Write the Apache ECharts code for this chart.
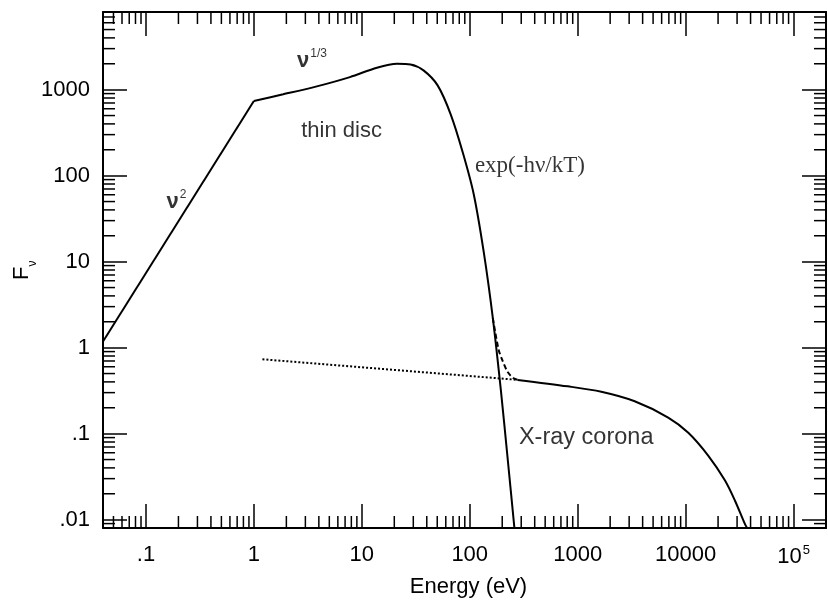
<!DOCTYPE html>
<html><head><meta charset="utf-8">
<script src="https://cdn.jsdelivr.net/npm/echarts@6/dist/echarts.min.js"></script>
<style>html,body{margin:0;padding:0;background:#fff}#c{width:828px;height:600px}</style>
</head><body><div id="c"></div>
<script>
// ---- data ----
const xMin = 0.04, xMax = 200000, yMin = 0.008, yMax = 8000;
const xTickValues = [0.1, 1, 10, 100, 1000, 10000, 100000];
const xTickLabels = ['.1', '1', '10', '100', '1000', '10000', '{b|10}{s|5}'];
const yTickValues = [0.01, 0.1, 1, 10, 100, 1000];
const yTickLabels = ['.01', '.1', '1', '10', '100', '1000'];
const xMinorTicks = [0.05,0.06,0.07,0.08,0.09, 0.2,0.3,0.4,0.5,0.6,0.7,0.8,0.9, 2,3,4,5,6,7,8,9,
  20,30,40,50,60,70,80,90, 200,300,400,500,600,700,800,900, 2000,3000,4000,5000,6000,7000,8000,9000,
  20000,30000,40000,50000,60000,70000,80000,90000];
const yMinorTicks = [0.009, 0.02,0.03,0.04,0.05,0.06,0.07,0.08,0.09, 0.2,0.3,0.4,0.5,0.6,0.7,0.8,0.9,
  2,3,4,5,6,7,8,9, 20,30,40,50,60,70,80,90, 200,300,400,500,600,700,800,900, 2000,3000,4000,5000,6000,7000];

// thin disc: nu^2 segment and the nu^1/3 + exponential part
const rjE = [0.04, 1];
const rjF = [1.18, 740];
const discE = [1, 1.87, 3.83, 7.76, 13.8, 21.2, 28.3, 37.3, 50.4, 66.6, 86.1, 108.9, 134.9, 163.7, 194.2, 225.6, 259.4];
const discF = [740, 883, 1092, 1400, 1801, 2004, 1967, 1675, 1122, 517, 187, 60.9, 12.9, 2.21, 0.323, 0.0484, 0.008];
// corona power law (dotted, under the disc)
const coronaDotE = [1.2, 280];
const coronaDotF = [0.733, 0.422];
// corona with cutoff (solid)
const coronaE = [278, 811, 1655, 3376, 6900, 10600, 16260, 23200, 28770, 35600, 37200];
const coronaF = [0.422, 0.355, 0.307, 0.238, 0.154, 0.1025, 0.0553, 0.0285, 0.0165, 0.0088, 0.008];
// total (dashed)
const totalE = [163.7, 185, 200, 225, 255, 280];
const totalF = [2.21, 0.95, 0.72, 0.52, 0.44, 0.422];

// annotations
const annText = ['thin disc', 'X-ray corona', 'exp(-hν/kT)', '{n|ν}{s|1/3}', '{n|ν}{s|2}'];
const annE = [6.5, 1200, 361, 2.51, 0.155];
const annF = [333, 0.0912, 130, 2230, 50.5];

const INK = '#000';
const SANS = 'Liberation Sans, Arial, Helvetica, sans-serif';
const SERIF = 'Liberation Serif, Times New Roman, serif';

function zip(a, b) { return a.map((v, i) => [v, b[i]]); }
function labelFor(values, labels) {
  return function (v) {
    for (let i = 0; i < values.length; i++) {
      if (Math.abs(Math.log10(v) - Math.log10(values[i])) < 1e-6) return labels[i];
    }
    return '';
  };
}

const tickStyle = { color: INK, width: 1.5 };
function baseX(pos, showLabel) {
  return {
    type: 'log', logBase: 10, min: xMin, max: xMax, position: pos,
    axisLine: { show: true, onZero: false, lineStyle: { color: INK, width: 2 } },
    axisTick: { show: true, inside: true, length: 24, lineStyle: tickStyle },
    minorTick: { show: false }, splitLine: { show: false },
    axisLabel: {
      show: showLabel, color: INK, fontFamily: SANS, fontSize: 22, margin: 16,
      showMinLabel: false, showMaxLabel: false,
      formatter: labelFor(xTickValues, xTickLabels),
      rich: {
        b: { fontFamily: SANS, fontSize: 22, color: INK, lineHeight: 24, verticalAlign: 'bottom' },
        s: { fontFamily: SANS, fontSize: 13, color: INK, lineHeight: 16, verticalAlign: 'top', padding: [0, 0, 0, 1] }
      }
    }
  };
}
function baseY(pos, showLabel) {
  return {
    type: 'log', logBase: 10, min: yMin, max: yMax, position: pos,
    axisLine: { show: true, onZero: false, lineStyle: { color: INK, width: 2 } },
    axisTick: { show: true, inside: true, length: 24, lineStyle: tickStyle },
    minorTick: { show: false }, splitLine: { show: false },
    axisLabel: {
      show: showLabel, color: INK, fontFamily: SANS, fontSize: 22, margin: 13,
      showMinLabel: false, showMaxLabel: false,
      formatter: labelFor(yTickValues, yTickLabels)
    }
  };
}

const xA0 = baseX('bottom', true);
xA0.name = 'Energy (eV)';
xA0.nameLocation = 'middle';
xA0.nameGap = 48;
xA0.nameMoveOverlap = false;
xA0.nameTextStyle = { fontFamily: SANS, fontSize: 22, color: INK, padding: [0, 0, 0, 8] };
const yA0 = baseY('left', true);
yA0.name = '{f|F}{v|ν}{z| }';
yA0.nameLocation = 'middle';
yA0.nameGap = 64;
yA0.nameMoveOverlap = false;
yA0.nameTextStyle = {
  rich: {
    f: { fontFamily: SANS, fontSize: 22, color: INK, lineHeight: 22, verticalAlign: 'top' },
    v: { fontFamily: SANS, fontSize: 12, color: INK, lineHeight: 12, verticalAlign: 'bottom' },
    z: { fontFamily: SANS, fontSize: 2, color: INK, lineHeight: 28, verticalAlign: 'bottom' }
  }
};

function minorX(params, api) {
  const cs = params.coordSys;
  const px = api.coord([api.value(0), yMin])[0];
  const b = cs.y + cs.height, t = cs.y, L = 12;
  return { type: 'group', children: [
    { type: 'line', shape: { x1: px, y1: b, x2: px, y2: b - L }, style: { stroke: INK, lineWidth: 1.5 } },
    { type: 'line', shape: { x1: px, y1: t, x2: px, y2: t + L }, style: { stroke: INK, lineWidth: 1.5 } }
  ] };
}
function minorY(params, api) {
  const cs = params.coordSys;
  const py = api.coord([xMin, api.value(1)])[1];
  const l = cs.x, r = cs.x + cs.width, L = 12;
  return { type: 'group', children: [
    { type: 'line', shape: { x1: l, y1: py, x2: l + L, y2: py }, style: { stroke: INK, lineWidth: 1.5 } },
    { type: 'line', shape: { x1: r, y1: py, x2: r - L, y2: py }, style: { stroke: INK, lineWidth: 1.5 } }
  ] };
}

const lineBase = { type: 'line', showSymbol: false, symbol: 'none', silent: true, animation: false, z: 3 };

const chart = echarts.init(document.getElementById('c'), null, { renderer: 'canvas' });
chart.setOption({
  backgroundColor: '#fff',
  animation: false,
  grid: { left: 103, right: 2, top: 12, bottom: 72, containLabel: false, outerBoundsMode: 'none' },
  xAxis: [xA0, baseX('top', false)],
  yAxis: [yA0, baseY('right', false)],
  series: [
    Object.assign({}, lineBase, { name: 'nu2', data: zip(rjE, rjF), lineStyle: { color: INK, width: 2 } }),
    Object.assign({}, lineBase, { name: 'disc', data: zip(discE, discF), smooth: 0.3, lineStyle: { color: INK, width: 2 } }),
    Object.assign({}, lineBase, { name: 'coronaDot', data: zip(coronaDotE, coronaDotF), lineStyle: { color: INK, width: 2, type: [2, 2] } }),
    Object.assign({}, lineBase, { name: 'corona', data: zip(coronaE, coronaF), smooth: 0.3, lineStyle: { color: INK, width: 2 } }),
    Object.assign({}, lineBase, { name: 'total', data: zip(totalE, totalF), smooth: 0.3, lineStyle: { color: INK, width: 2, type: [5, 3] } }),
    { type: 'custom', name: 'xminor', renderItem: minorX, data: xMinorTicks.map(v => [v, yMin]), silent: true, clip: false, z: 4 },
    { type: 'custom', name: 'yminor', renderItem: minorY, data: yMinorTicks.map(v => [xMin, v]), silent: true, clip: false, z: 4 },
    {
      type: 'scatter', name: 'labels', symbolSize: 0, silent: true, z: 5,
      data: annText.map((t, i) => {
        const d = { value: [annE[i], annF[i]], name: t };
        if (i === 2) d.label = { fontFamily: SERIF, fontSize: 23 };
        if (i === 1) d.label = { fontSize: 23.5 };
        if (i >= 3) d.label = { position: 'right', distance: 0, align: 'left' };
        return d;
      }),
      label: {
        show: true, position: 'inside', color: INK, fontFamily: SANS, fontSize: 22,
        formatter: p => p.name,
        rich: {
          n: { fontFamily: SANS, fontSize: 22, fontWeight: 'bold', color: INK, lineHeight: 24, verticalAlign: 'bottom' },
          s: { fontFamily: SANS, fontSize: 12, color: INK, lineHeight: 18, verticalAlign: 'top', padding: [0, 0, 0, 1] }
        }
      }
    }
  ]
});
</script>
</body></html>
